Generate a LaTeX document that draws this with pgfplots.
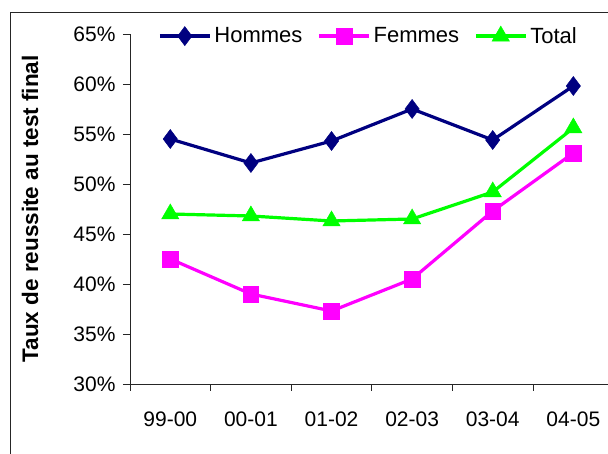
\documentclass[border=0pt]{standalone}
\usepackage{fontspec}
\setmainfont{Liberation Sans}
\usepackage{pgfplots}
\pgfplotsset{compat=1.18}
\definecolor{hom}{RGB}{0,0,128}
\definecolor{fem}{RGB}{255,0,255}
\definecolor{tot}{RGB}{0,255,0}

\begin{document}
\begin{tikzpicture}[x=1pt,y=1pt]
  \path[use as bounding box] (-130,-70) rectangle (478,384);
  \draw[line width=1pt, black!85] (-119,-75) -- (-119,371) -- (485,371);
  \begin{axis}[
      at={(0,0)}, anchor=south west,
      scale only axis,
      width=478pt, height=350pt,
      xmin=-0.5, xmax=5.43,
      ymin=30, ymax=65,
      axis lines*=left,
      axis line style={line width=0.8pt, black!85},
      tick style={line width=0.8pt, black!85},
      tick align=outside,
      major tick length=7pt,
      ytick={30,35,...,65},
      yticklabels={30\%,35\%,40\%,45\%,50\%,55\%,60\%,65\%},
      xtick={-0.5,0.5,...,4.5},
      xticklabels={},
      extra x ticks={0,1,2,3,4,5},
      extra x tick labels={99-00,00-01,01-02,02-03,03-04,04-05},
      extra x tick style={major tick length=0pt},
      tick label style={font=\fontsize{21}{24}\selectfont},
      yticklabel style={anchor=east, xshift=-4pt},
      xticklabel style={anchor=north, yshift=-24pt},
      ylabel={Taux de reussite au test final},
      ylabel style={at={(axis description cs:-0.209,0.5)}, anchor=center,
        font=\fontsize{22.5}{24}\selectfont\bfseries},
      legend columns=3,
      legend style={draw=none, fill=none, inner sep=0pt,
        at={(rel axis cs:0.0586,0.994)}, anchor=west,
        font=\fontsize{22}{24}\selectfont,
        nodes={inner xsep=3pt},
        /tikz/every even column/.append style={column sep=12pt}},
      legend image code/.code={
        \draw[mark repeat=2,mark phase=2] plot coordinates {(0pt,0pt)(25pt,0pt)(50pt,0pt)};},
      clip=false,
    ]
    \addplot[hom, line width=3.2pt, mark=diamond*, mark size=9.5pt,
      mark options={solid, fill=hom, line width=0.5pt}]
      coordinates {(0,54.5) (1,52.1) (2,54.3) (3,57.5) (4,54.4) (5,59.8)};
    \addlegendentry{Hommes}
    \addplot[fem, line width=3.2pt, mark=square*, mark size=7.8pt,
      mark options={solid, fill=fem, line width=0.5pt}]
      coordinates {(0,42.5) (1,39.0) (2,37.3) (3,40.5) (4,47.3) (5,53.1)};
    \addlegendentry{Femmes}
    \addplot[tot, line width=3.2pt, mark=triangle*, mark size=10pt,
      mark options={solid, fill=tot, line width=0.5pt}]
      coordinates {(0,47.0) (1,46.8) (2,46.3) (3,46.5) (4,49.2) (5,55.6)};
    \addlegendentry{Total}
  \end{axis}
\end{tikzpicture}
\end{document}
